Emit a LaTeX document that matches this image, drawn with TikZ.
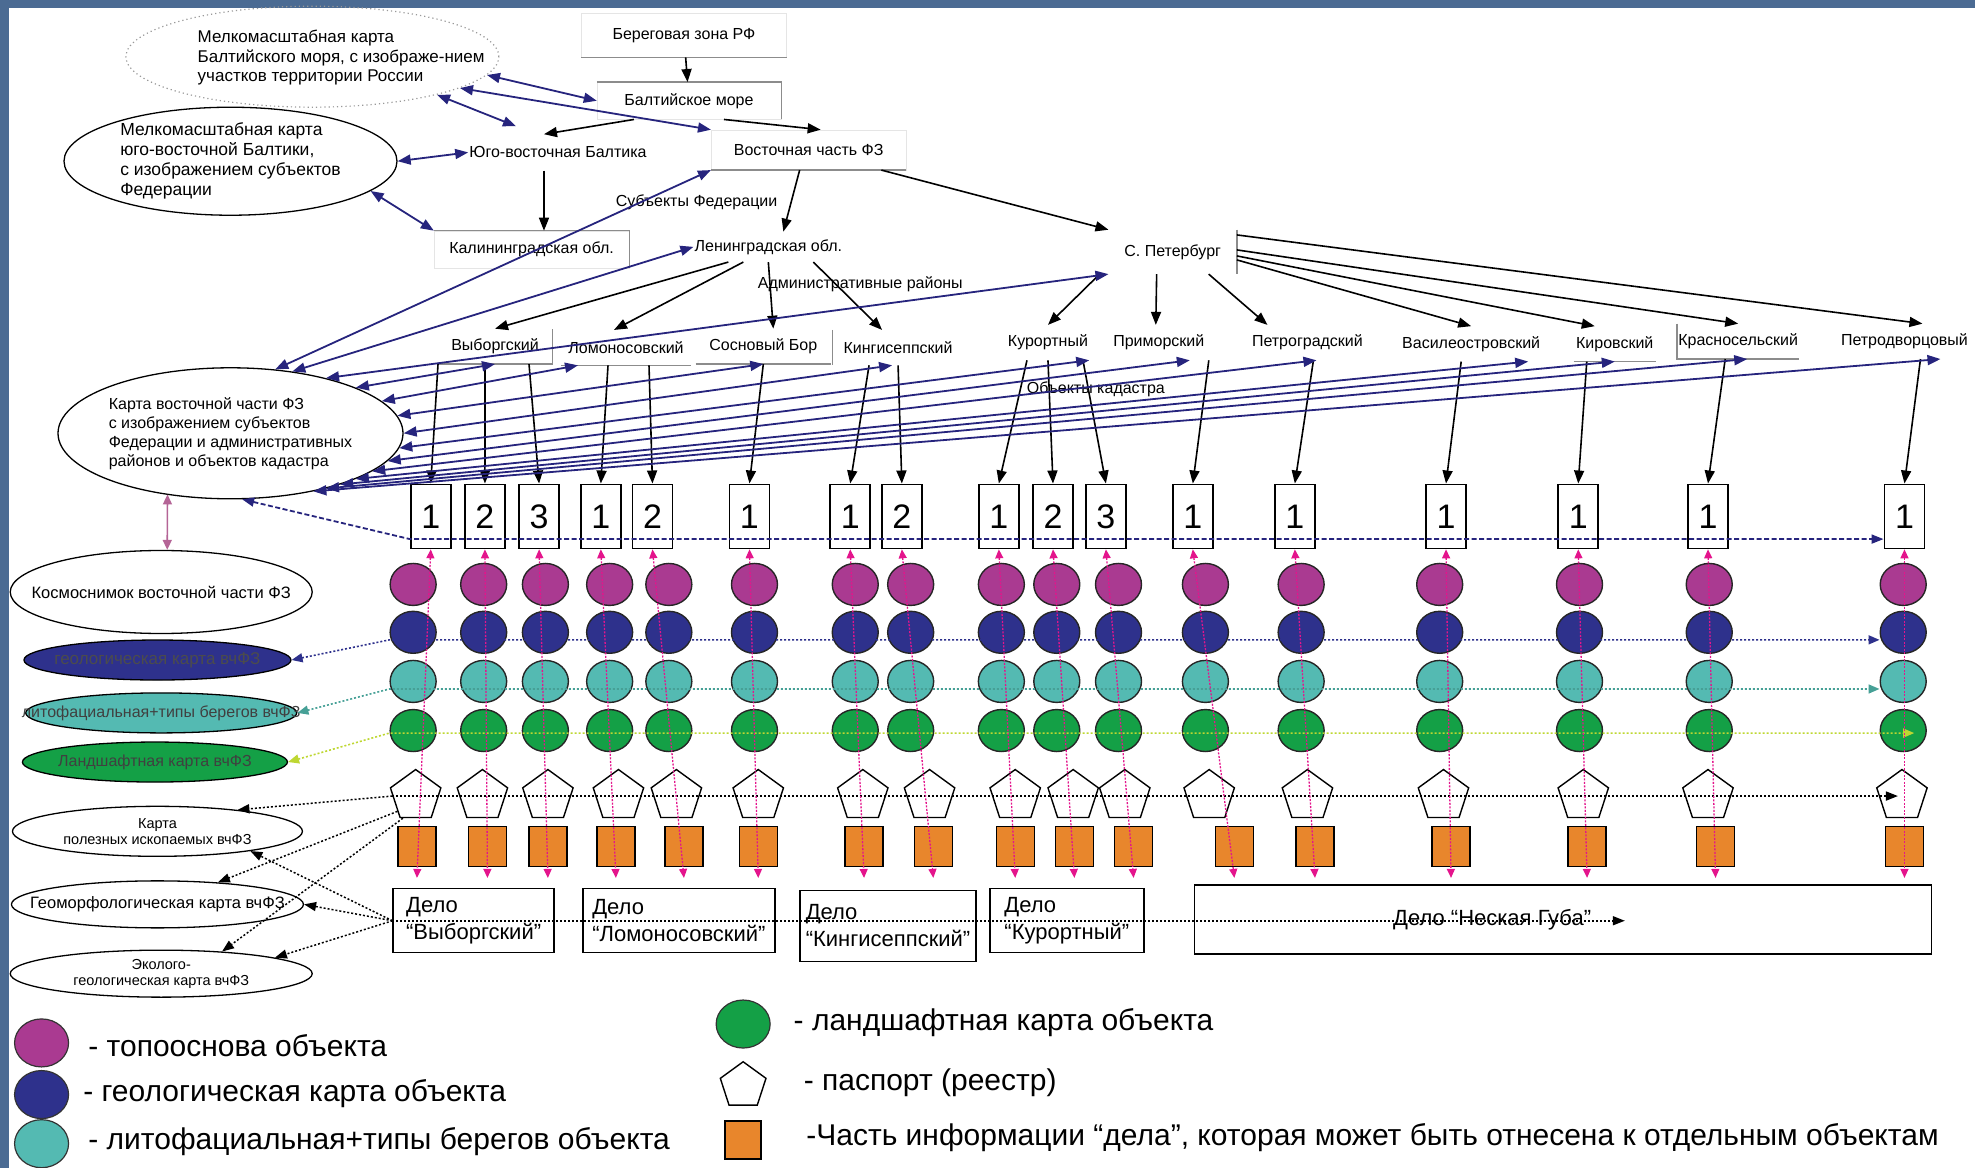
\documentclass[tikz,border=0pt]{standalone}
\usepackage{fontspec}
\setmainfont{Liberation Sans}
\usetikzlibrary{shapes.geometric,arrows.meta}

\definecolor{frameblue}{HTML}{4B6B93}
\definecolor{topo}{RGB}{170,58,145}
\definecolor{geo}{RGB}{46,49,140}
\definecolor{lito}{RGB}{84,186,178}
\definecolor{land}{RGB}{20,160,70}
\definecolor{caseorange}{RGB}{232,134,44}
\definecolor{navyln}{RGB}{38,36,125}
\definecolor{pinkln}{RGB}{228,20,140}
\definecolor{mauve}{RGB}{180,100,150}
\definecolor{litoln}{RGB}{70,160,150}
\definecolor{landln}{RGB}{190,215,50}

\tikzset{
  lbl/.style={font=\fontsize{16}{19}\selectfont, inner sep=1pt},
  card/.style={lbl, draw=black!10},
  cardedge/.style={draw=black!45, line width=1.3pt},
  district/.style={lbl, minimum height=35pt},
  mapell/.style={ellipse, draw, line width=1.3pt, inner sep=0pt},
  numbox/.style={draw, line width=1.8pt, fill=white, minimum width=40pt,
    minimum height=64pt, inner sep=0pt, font=\fontsize{34}{34}\selectfont},
  dot/.style={ellipse, draw=black!85, line width=1.4pt, minimum width=46pt,
    minimum height=42pt, inner sep=0pt},
  pasp/.style={regular polygon, regular polygon sides=5, draw, line width=1.4pt,
    fill=white, minimum size=53pt, inner sep=0pt},
  part/.style={draw, line width=1.4pt, fill=caseorange, minimum width=38pt,
    minimum height=40pt, inner sep=0pt},
  delo/.style={draw, line width=1.3pt, align=left, inner sep=0pt,
    font=\fontsize{22}{27}\selectfont},
  legdot/.style={ellipse, draw=black!80, line width=1.2pt, minimum width=54pt,
    minimum height=48pt, inner sep=0pt},
  legtxt/.style={anchor=west, inner sep=0pt, font=\fontsize{30}{32}\selectfont},
  blk/.style={-{Triangle[length=13pt,width=10pt]}, line width=1.6pt},
  nav/.style={{Triangle[length=13pt,width=10pt]}-{Triangle[length=13pt,width=10pt]},
    draw=navyln, line width=1.8pt},
  pinkdot/.style={{Triangle[length=9pt,width=8pt]}-{Triangle[length=9pt,width=8pt]},
    draw=pinkln, line width=1.3pt, dash pattern=on 2pt off 1.5pt},
  kadline/.style={{Triangle[length=12pt,width=9pt]}-{Triangle[length=12pt,width=9pt]},
    draw=navyln, line width=1.8pt, dash pattern=on 5pt off 2.5pt},
  rowdot/.style={line width=1.6pt, dash pattern=on 2pt off 2pt},
  blackdot/.style={-{Triangle[length=12pt,width=9pt]}, line width=1.5pt,
    dash pattern=on 2pt off 2pt}
}

\begin{document}
\begin{tikzpicture}[x=1.2596pt, y=-1.2596pt]
\useasboundingbox (0,0) rectangle (1568,927);

% Slide frame
\fill[frameblue] (0,0) rectangle (1568,6);
\fill[frameblue] (0,0) rectangle (7,927);

% Maps and regions at the top
\node[ellipse, draw=black!40, line width=1.2pt, dash pattern=on 1.2pt off 3pt,
  minimum width=373pt, minimum height=101pt] (mapBalt) at (248,45) {};
\node[lbl, align=left, anchor=west, font=\fontsize{17}{19.5}\selectfont] (mapBaltTxt) at (156,46)
  {Мелкомасштабная карта\\Балтийского моря, с изображе-нием\\участков территории России};
\node[mapell, minimum width=333pt, minimum height=108pt,
  label={[lbl, align=left, font=\fontsize{17.5}{20}\selectfont]center:{Мелкомасштабная карта\\юго-восточной Балтики,\\с изображением субъектов\\Федерации}}]
  (mapSE) at (183,128) {};

\node[card, minimum width=205pt, minimum height=44pt] (zonaRF) at (543,28) {Береговая зона РФ};
\node[card, minimum width=184pt, minimum height=37pt] (baltSea) at (547,80) {Балтийское море};
\node[lbl, minimum height=36pt] (seBalt) at (443,121) {Юго-восточная Балтика};
\node[card, minimum width=195pt, minimum height=40pt] (eastFZ) at (642,119) {Восточная часть ФЗ};
\node[lbl] (subj) at (553,161) {Субъекты Федерации};
\node[card, minimum width=195pt, minimum height=37pt] (kalin) at (422,198) {Калининградская обл.};
\node[lbl, minimum height=30pt] (lenobl) at (610,196) {Ленинградская обл.};
\node[lbl, minimum width=128pt, minimum height=44pt] (spb) at (931,200) {С. Петербург};
\node[lbl] (admin) at (683,226) {Административные районы};

% Districts
\node[district, minimum width=115pt] (vyb) at (393,275) {Выборгский};
\node[district, minimum width=130pt] (lom) at (497,276) {Ломоносовский};
\node[district, minimum width=135pt] (sos) at (606,275) {Сосновый Бор};
\node[district, minimum width=131pt] (king) at (713,276) {Кингисеппский};
\node[district] (kur) at (832,272) {Курортный};
\node[district] (prim) at (920,272) {Приморский};
\node[district] (petr) at (1038,272) {Петроградский};
\node[district] (vas) at (1168,273) {Василеостровский};
\node[district, minimum width=82pt] (kir) at (1282,273) {Кировский};
\node[district, minimum width=120pt] (krs) at (1380,271) {Красносельский};
\node[district] (ptd) at (1512,271) {Петродворцовый};
\node[lbl] (kadastr) at (870,309) {Объекты кадастра};

\draw[cardedge] (zonaRF.south west) -- (zonaRF.south east);
\draw[cardedge] (baltSea.north west) -- (baltSea.north east) -- (baltSea.south east);
\draw[cardedge] (eastFZ.south west) -- (eastFZ.south east);
\draw[cardedge] (kalin.north west) -- (kalin.north east) -- (kalin.south east);
\draw[cardedge] (spb.north east) -- (spb.south east);
\draw[cardedge] (vyb.south west) -- (vyb.south east) -- (vyb.north east);
\draw[cardedge] (lom.south west) -- (lom.south east);
\draw[cardedge] (sos.south west) -- (sos.south east);
\draw[cardedge] (king.north west) -- (king.south west);
\draw[cardedge] (kir.south west) -- (kir.south east);
\draw[cardedge] (krs.north west) -- (krs.south west) -- (krs.south east);

% Thematic maps on the left
\node[mapell, minimum width=345pt, minimum height=131pt,
  label={[lbl, align=left]center:{Карта восточной части ФЗ\\с изображением субъектов\\Федерации и административных\\районов и объектов кадастра}}]
  (mapFZ) at (183,344) {};
\node[mapell, minimum width=302pt, minimum height=83pt,
  label={[lbl, font=\fontsize{16.5}{19}\selectfont]center:Космоснимок восточной части ФЗ}]
  (kosmo) at (128,470) {};
\node[mapell, fill=geo, minimum width=267pt, minimum height=40pt,
  label={[lbl, text=black!70, font=\fontsize{17}{19}\selectfont]center:геологическая карта вчФЗ}]
  (geoMap) at (125,524) {};
\node[mapell, fill=lito, minimum width=271pt, minimum height=40pt,
  label={[lbl, text=black!75]center:литофациальная+типы берегов вчФЗ}]
  (lithoMap) at (128,566) {};
\node[mapell, fill=land, minimum width=265pt, minimum height=40pt,
  label={[lbl, text=black!75]center:Ландшафтная карта вчФЗ}]
  (landMap) at (123,605) {};
\node[mapell, minimum width=290pt, minimum height=50pt,
  label={[lbl, align=center, font=\fontsize{14.5}{16}\selectfont]center:{Карта\\полезных ископаемых вчФЗ}}]
  (mineMap) at (125,660) {};
\node[mapell, minimum width=292pt, minimum height=47pt,
  label={[lbl, font=\fontsize{16.5}{19}\selectfont]center:Геоморфологическая карта вчФЗ}]
  (geomMap) at (125,718) {};
\node[mapell, minimum width=302pt, minimum height=47pt,
  label={[lbl, align=center, font=\fontsize{14.5}{16}\selectfont]center:{Эколого-\\геологическая карта вчФЗ}}]
  (ecoMap) at (128,773) {};

% Objects of the cadastre
\foreach \n/\num/\bx/\cx/\px/\sx in {1/1/342/328/330/331, 2/2/385/384/383/387,
    3/3/428/433/435/435, 4/1/477/484/491/489, 5/2/518/531/537/543, 6/1/595/599/602/602,
    7/1/675/679/685/686, 8/2/716/723/738/741, 9/1/793/795/806/806,
    10/2/836/839/852/853, 11/3/878/888/893/900, 12/1/947/957/960/980,
    13/1/1028/1033/1038/1044, 14/1/1148/1143/1146/1152, 15/1/1253/1254/1257/1260,
    16/1/1356/1357/1356/1362, 17/1/1512/1511/1510/1512} {
  \node[numbox] (b\n) at (\bx,410) {\num};
  \node[dot, fill=topo] (t\n) at (\cx,464) {};
  \node[dot, fill=geo] (g\n) at (\cx,502) {};
  \node[dot, fill=lito] (l\n) at (\cx,541) {};
  \node[dot, fill=land] (a\n) at (\cx,580) {};
  \node[pasp] (p\n) at (\px,632) {};
  \node[part] (s\n) at (\sx,672) {};
  \coordinate (e\n) at (\sx,697);
}

% Cases
\node[delo, minimum width=161pt, minimum height=64pt] (dela1) at (376,731) {Дело\\“Выборгский”};
\node[delo, minimum width=192pt, minimum height=64pt] (dela2) at (539,731) {Дело\\“Ломоносовский”};
\node[delo, minimum width=176pt, minimum height=71pt] (dela3) at (705,735) {Дело\\“Кингисеппский”};
\node[delo, minimum width=154pt, minimum height=64pt] (dela4) at (847,731) {Дело\\“Курортный”};
\node[delo, minimum width=737pt, minimum height=69pt,
  label={[xshift=-71pt, font=\fontsize{22}{27}\selectfont]center:Дело “Неская Губа”}] (dela5) at (1241,730) {};

% Top links
\draw[nav] (mapBalt.-6) -- (baltSea.west);
\draw[nav] (mapBalt.-12) -- (eastFZ.north west);
\draw[nav] (mapBalt.-17) -- ([xshift=-42pt,yshift=8pt]seBalt.north);
\draw[nav] (mapSE.east) -- (seBalt.west);
\draw[nav] (mapSE.-12) -- (kalin.north west);
\draw[blk] (zonaRF) -- (baltSea);
\draw[blk] ([xshift=35pt]baltSea.south) -- ([xshift=12pt]eastFZ.north);
\draw[blk] ([xshift=-55pt]baltSea.south) -- ([xshift=-14pt]seBalt.north);
\draw[blk] ([xshift=-14pt]seBalt.south) -- ([xshift=-14pt]seBalt.south |- kalin.north);
\draw[blk] ([xshift=-9pt]eastFZ.south) -- ([xshift=15pt]lenobl.north);
\draw[blk] ([xshift=-25pt]eastFZ.south east) -- (spb.north west);

% Regions to districts
\draw[blk] ([xshift=-40pt]lenobl.south) -- (vyb.north);
\draw[blk] ([xshift=-25pt]lenobl.south) -- ([xshift=-12pt]lom.north);
\draw[blk] (lenobl.south) -- ([xshift=10pt]sos.north);
\draw[blk] ([xshift=45pt]lenobl.south) -- ([xshift=-16pt]king.north);
\draw[blk] ([xshift=-73pt]spb.south) -- (kur.north);
\draw[blk] ([xshift=-16pt]spb.south) -- ([xshift=-3pt]prim.north);
\draw[blk] ([xshift=36pt]spb.south) -- ([xshift=-40pt]petr.north);
\draw[blk] ([yshift=-8pt]spb.east) -- (vas.north);
\draw[blk] ([yshift=-4pt]spb.east) -- ([xshift=-20pt]kir.north);
\draw[blk] ([yshift=2pt]spb.east) -- (krs.north);
\draw[blk] ([yshift=17pt]spb.east) -- ([xshift=18pt]ptd.north);

% Districts to objects
\draw[blk] ([xshift=-57pt]vyb.south) -- (b1.north);
\draw[blk] ([xshift=-10pt]vyb.south) -- (b2.north);
\draw[blk] ([xshift=34pt]vyb.south) -- (b3.north);
\draw[blk] ([xshift=-18pt]lom.south) -- (b4.north);
\draw[blk] ([xshift=23pt]lom.south) -- (b5.north);
\draw[blk] (sos.south) -- (b6.north);
\draw[blk] ([xshift=-29pt]king.south) -- (b7.north);
\draw[blk] (king.south) -- (b8.north);
\draw[blk] ([xshift=-21pt]kur.south) -- (b9.north);
\draw[blk] (kur.south) -- (b10.north);
\draw[blk] ([xshift=35pt]kur.south) -- (b11.north);
\draw[blk] ([xshift=50pt]prim.south) -- (b12.north);
\draw[blk] ([xshift=6pt]petr.south) -- (b13.north);
\draw[blk] ([xshift=-10pt]vas.south) -- (b14.north);
\draw[blk] ([xshift=-28pt]kir.south) -- (b15.north);
\draw[blk] ([xshift=-13pt]krs.south) -- (b16.north);
\draw[blk] ([xshift=16pt]ptd.south) -- (b17.north);

% Map of the eastern part to regions and districts
\draw[nav] (mapFZ.55) -- (eastFZ.south west);
\draw[nav] (mapFZ.45) -- (lenobl.west);
\draw[nav] (mapFZ.30) -- (spb.south west);
\draw[nav] (mapFZ.20) -- (vyb.south);
\draw[nav] (mapFZ.12) -- ([xshift=-48pt]lom.south);
\draw[nav] (mapFZ.6) -- (sos.south);
\draw[nav] (mapFZ.0) -- ([xshift=-6pt]king.south);
\draw[nav] (mapFZ.-5) -- (kur.south east);
\draw[nav] (mapFZ.-10) -- ([xshift=31pt]prim.south);
\draw[nav] (mapFZ.-15) -- ([xshift=9pt]petr.south);
\draw[nav] (mapFZ.-20) -- ([xshift=57pt]vas.south);
\draw[nav] (mapFZ.-25) -- (kir.south);
\draw[nav] (mapFZ.-30) -- ([xshift=9pt]krs.south);
\draw[nav] (mapFZ.-35) -- ([xshift=36pt]ptd.south);
\draw[{Triangle[length=10pt,width=9pt]}-{Triangle[length=10pt,width=9pt]}, draw=mauve, line width=1.6pt]
  ([xshift=-63pt,yshift=5pt]mapFZ.south) -- ([xshift=6pt]kosmo.north);

% Rows of thematic maps
\coordinate (kadY) at (0,428);
\coordinate (geoY) at (0,508);
\coordinate (litoY) at (0,547);
\coordinate (landY) at (0,582);
\draw[kadline] (mapFZ.-80) -- (b1.west |- kadY) -- (b17.west |- kadY);
\draw[rowdot, draw=geo, {Triangle[length=11pt,width=9pt]}-{Triangle[length=11pt,width=9pt]}]
  (geoMap.east) -- (g1.west |- geoY) -- (g17.west |- geoY);
\draw[rowdot, draw=litoln, {Triangle[length=11pt,width=9pt]}-{Triangle[length=11pt,width=9pt]}]
  (lithoMap.east) -- (l1.west |- litoY) -- (l17.west |- litoY);
\draw[rowdot, draw=landln, {Triangle[length=11pt,width=9pt]}-{Triangle[length=11pt,width=9pt]}]
  (landMap.east) -- (a1.west |- landY) -- ([xshift=11pt]a17.center |- landY);
\draw[blackdot] (p1.west) -- ([xshift=-4pt]p17.center);
\draw[blackdot] (p1.west) -- (mineMap.15);
\draw[blackdot] (p1.220) -- (geomMap.20);
\draw[blackdot] (p1.240) -- (ecoMap.20);
\coordinate (delaEnd) at (1290,731);
\draw[blackdot] (dela1.west) -- (delaEnd);
\draw[blackdot] (dela1.west) -- (mineMap.-12);
\draw[blackdot] (dela1.west) -- (geomMap.east);
\draw[blackdot] (dela1.west) -- (ecoMap.8);

% Objects to cases
\foreach \n in {1,...,17} {
  \draw[pinkdot] (b\n.south) -- (e\n);
}

% Legend
\node[legdot, fill=topo] (legTopo) at (33,828) {};
\node[legtxt] (legTopoTxt) at (70,830) {- топооснова объекта};
\node[legdot, fill=geo] (legGeo) at (33,869) {};
\node[legtxt] (legGeoTxt) at (66,868) {- геологическая карта объекта};
\node[legdot, fill=lito] (legLito) at (33,908) {};
\node[legtxt] (legLitoTxt) at (70,906) {- литофациальная+типы берегов объекта};
\node[legdot, fill=land] (legLand) at (590,813) {};
\node[legtxt] (legLandTxt) at (630,812) {- ландшафтная карта объекта};
\node[pasp, minimum size=48pt] (legPasp) at (590,862) {};
\node[legtxt] (legPaspTxt) at (638,860) {- паспорт (реестр)};
\node[part, minimum width=36pt, minimum height=38pt] (legPart) at (590,905) {};
\node[legtxt] (legPartTxt) at (640,903) {-Часть информации “дела”, которая может быть отнесена к отдельным объектам};
\end{tikzpicture}
\end{document}
